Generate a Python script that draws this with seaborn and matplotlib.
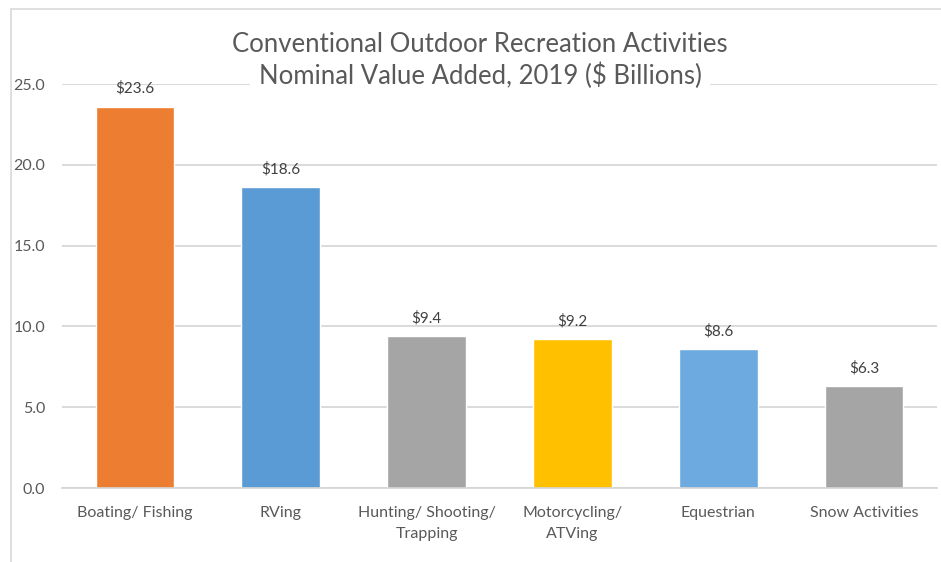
"""
Conventional outdoor recreation activities: nominal value added, 2019.
"""

import matplotlib.pyplot as plt
import matplotlib.lines as mlines
import pandas as pd
import seaborn as sns

activities = ['Boating/ Fishing', 'RVing', 'Hunting/ Shooting/\nTrapping',
              'Motorcycling/\nATVing', 'Equestrian', 'Snow Activities']
value_added = [23.6, 18.6, 9.4, 9.2, 8.6, 6.3]
bar_colors = ['#ED7D31', '#5B9BD5', '#A5A5A5', '#FFC000', '#6CAAE0', '#A5A5A5']
y_ticks = [0, 5, 10, 15, 20, 25]

df = pd.DataFrame({'activity': activities, 'value': value_added})

sns.set_style('white')
plt.rcParams['font.family'] = ['Lato', 'DejaVu Sans']

fig = plt.figure(figsize=(9.41, 5.62), dpi=100)
ax = fig.add_axes([62 / 941, 1 - 488 / 562, 875 / 941, 404 / 562])

sns.barplot(data=df, x='activity', y='value', hue='activity',
            palette=bar_colors, legend=False, width=0.54, saturation=1,
            ax=ax, zorder=3)

ax.set_ylim(0, 25)
ax.set_yticks(y_ticks)
ax.set_yticklabels([f'{t:.1f}' for t in y_ticks])
ax.yaxis.grid(True, color='#D4D4D4', linewidth=1.2, zorder=0)
ax.set_axisbelow(True)
sns.despine(ax=ax, left=True, top=True, right=True, bottom=False)
ax.spines['bottom'].set_color('#D4D4D4')
ax.spines['bottom'].set_linewidth(1.2)
ax.spines['bottom'].set_zorder(4)
ax.set_xlabel('')
ax.set_ylabel('')
ax.tick_params(axis='y', length=0, pad=12, labelsize=11.5, labelcolor='#595959')
ax.tick_params(axis='x', length=0, pad=13, labelsize=11.5, labelcolor='#595959')
for lbl in ax.get_xticklabels():
    lbl.set_linespacing(1.65)
    lbl.set_verticalalignment('top')

for patch, val in zip(ax.patches, value_added):
    ax.annotate(f'${val:.1f}', (patch.get_x() + patch.get_width() / 2, val),
                xytext=(0, 13), textcoords='offset points', ha='center',
                va='center', fontsize=11, color='#404040', annotation_clip=False)

# title sits inside the plot area, masking the top gridline
fig.text(480 / 941, 1 - 45 / 562, 'Conventional Outdoor Recreation Activities',
         ha='center', va='center', fontsize=18.5, color='#595959',
         bbox=dict(facecolor='white', edgecolor='none', pad=4))
fig.text(480 / 941, 1 - 76 / 562, 'Nominal Value Added, 2019 ($ Billions)',
         ha='center', va='center', fontsize=18.5, color='#595959',
         bbox=dict(facecolor='white', edgecolor='none', pad=6))

# chart frame (top and left edges visible)
fig.add_artist(mlines.Line2D([11 / 941, 1], [1 - 9 / 562, 1 - 9 / 562],
                             color='#D9D9D9', linewidth=1.2))
fig.add_artist(mlines.Line2D([11 / 941, 11 / 941], [0, 1 - 9 / 562],
                             color='#D9D9D9', linewidth=1.2))

plt.savefig('out.png', dpi=100)
plt.close(fig)
